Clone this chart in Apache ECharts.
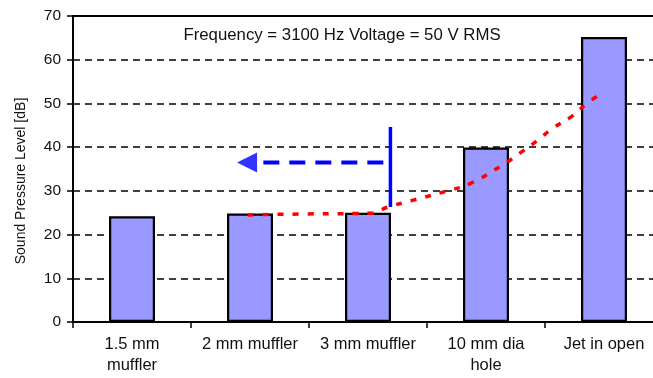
<!DOCTYPE html>
<html>
<head>
<meta charset="utf-8">
<script src="https://cdn.jsdelivr.net/npm/echarts@6/dist/echarts.min.js"></script>
<style>
html,body{margin:0;padding:0;background:#fff;}
#c{width:653px;height:378px;}
</style>
</head>
<body>
<div id="c"></div>
<script>
const categories = ['1.5 mm\nmuffler', '2 mm muffler', '3 mm muffler', '10 mm dia\nhole', 'Jet in open'];
const barValues = [24.2, 24.8, 25.0, 39.9, 65.2];
const yTicks = [0, 10, 20, 30, 40, 50, 60, 70];
// trend curve: [category position, dB]
const trendX = [0.98, 1.42, 2.02, 2.17, 2.36, 2.70, 2.86, 3.14, 3.29, 3.43, 3.57, 3.73, 3.86, 4.0];
const trendY = [24.5, 24.7, 24.9, 26.3, 27.7, 30.2, 31.6, 35.9, 38.7, 41.4, 44.4, 47.1, 50.1, 52.6];
// blue marker: vertical line and left arrow
const markerX = [2.19, 2.19];
const markerY = [26.3, 44.6];
const arrowX = [2.13, 1.06];
const arrowY = [36.5, 36.5];
const arrowHead = [[0.975, 36.5]];
const titleText = 'Frequency = 3100 Hz Voltage = 50 V RMS';
const yName = 'Sound Pressure Level [dB]';

const chart = echarts.init(document.getElementById('c'), null, {renderer: 'canvas'});
const font = '"Liberation Sans", Arial, sans-serif';
chart.setOption({
  animation: false,
  backgroundColor: '#fff',
  textStyle: {fontFamily: font},
  grid: {left: 73, top: 16, height: 306, width: 590, containLabel: false, outerBoundsMode: 'none'},
  graphic: [
    {type: 'text', x: 0, y: 0, style: {text: titleText, x: 342, y: 35, fill: '#111', font: '16.8px ' + font, textAlign: 'center', textVerticalAlign: 'middle'}},
    {type: 'text', x: 21, y: 181, rotation: Math.PI / 2, style: {text: yName, fill: '#111', font: '14px ' + font, textAlign: 'center', textVerticalAlign: 'middle'}}
  ],
  xAxis: [
    {
      type: 'category', data: categories, position: 'bottom', boundaryGap: true,
      axisLine: {show: true, onZero: false, lineStyle: {color: '#000', width: 2}},
      axisTick: {show: true, length: 6, lineStyle: {color: '#000', width: 1.5}},
      axisLabel: {color: '#111', fontSize: 16.5, lineHeight: 21, margin: 12, interval: 0, fontFamily: font},
      splitLine: {show: false}
    },
    {
      type: 'value', position: 'top', min: -0.5, max: 4.5,
      axisLine: {show: true, onZero: false, lineStyle: {color: '#000', width: 2}},
      axisTick: {show: false}, axisLabel: {show: false}, splitLine: {show: false}
    }
  ],
  yAxis: {
    type: 'value', min: yTicks[0], max: yTicks[yTicks.length - 1], interval: 10,
    axisLine: {show: true, onZero: false, lineStyle: {color: '#000', width: 2}},
    axisTick: {show: true, length: 6, lineStyle: {color: '#000', width: 1.5}},
    axisLabel: {color: '#111', fontSize: 15.5, margin: 12, fontFamily: font},
    splitLine: {show: true, lineStyle: {color: '#000', width: 1.5, type: [7, 5]}}
  },
  series: [
    {
      type: 'bar', xAxisIndex: 0, data: barValues, barWidth: 46,
      itemStyle: {color: '#9999ff', borderColor: '#000', borderWidth: 2.2}
    },
    {
      type: 'line', xAxisIndex: 1, smooth: true, symbol: 'none',
      data: trendX.map((x, i) => [x, trendY[i]]),
      lineStyle: {color: '#ff0000', width: 3.5, type: [6, 9]}
    },
    {
      type: 'line', xAxisIndex: 1, symbol: 'none',
      data: markerX.map((x, i) => [x, markerY[i]]),
      lineStyle: {color: '#0000ff', width: 3.5}
    },
    {
      type: 'line', xAxisIndex: 1, symbol: 'none',
      data: arrowX.map((x, i) => [x, arrowY[i]]),
      lineStyle: {color: '#0000ff', width: 4, type: [16, 10]}
    },
    {
      type: 'scatter', xAxisIndex: 1, data: arrowHead,
      symbol: 'triangle', symbolRotate: 90, symbolSize: [20, 20],
      itemStyle: {color: '#0000ff'}
    }
  ]
});
</script>
</body>
</html>
